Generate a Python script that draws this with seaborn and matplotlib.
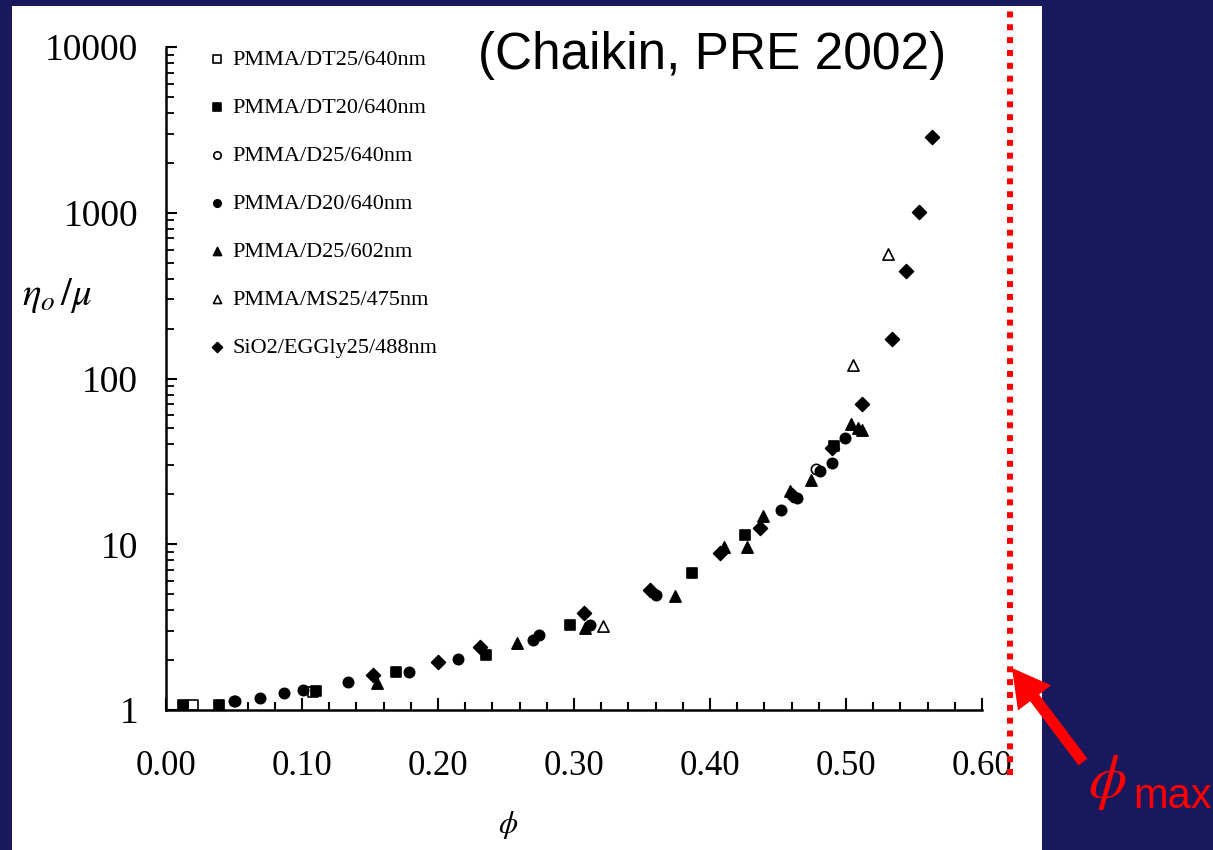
import numpy as np
import pandas as pd
import matplotlib
matplotlib.use('Agg')
import matplotlib.pyplot as plt
import seaborn as sns
from matplotlib.patches import Rectangle, FancyArrowPatch
from matplotlib.lines import Line2D
from matplotlib.ticker import FixedLocator, NullFormatter

# series (phi, eta_0/mu)
dt25_phi = [0.020, 0.108]
dt25_eta = [1.07, 1.28]

dt20_phi = [0.0125, 0.039, 0.110, 0.169, 0.235, 0.297, 0.387, 0.426, 0.491]
dt20_eta = [1.07, 1.07, 1.30, 1.69, 2.14, 3.25, 6.7, 11.3, 39.0]

d25_phi = [0.051, 0.478]
d25_eta = [1.14, 28.5]

d20_phi = [0.050, 0.069, 0.087, 0.101, 0.134, 0.179, 0.215, 0.270, 0.274,
           0.312, 0.360, 0.452, 0.464, 0.481, 0.490, 0.499]
d20_eta = [1.13, 1.18, 1.27, 1.32, 1.47, 1.69, 2.03, 2.64, 2.83,
           3.25, 4.93, 16.0, 18.9, 27.8, 30.8, 44.0]

d25_602_phi = [0.155, 0.258, 0.308, 0.374, 0.410, 0.427, 0.439, 0.459, 0.474,
               0.504, 0.509, 0.512]
d25_602_eta = [1.45, 2.53, 3.12, 4.86, 9.6, 9.6, 14.9, 21.1, 24.3,
               53.5, 50.0, 48.6]

ms25_phi = [0.321, 0.505, 0.531]
ms25_eta = [3.2, 120, 567]

sio2_phi = [0.152, 0.200, 0.231, 0.307, 0.356, 0.407, 0.437, 0.460, 0.490,
            0.512, 0.534, 0.544, 0.554, 0.563]
sio2_eta = [1.62, 1.95, 2.40, 3.84, 5.28, 8.8, 12.5, 19.8, 38.0,
            70.6, 174, 448, 1010, 2850]

labels = ['PMMA/DT25/640nm', 'PMMA/DT20/640nm', 'PMMA/D25/640nm', 'PMMA/D20/640nm',
          'PMMA/D25/602nm', 'PMMA/MS25/475nm', 'SiO2/EGGly25/488nm']
xtick_vals = [0.0, 0.1, 0.2, 0.3, 0.4, 0.5, 0.6]
xtick_labels = ['0.00', '0.10', '0.20', '0.30', '0.40', '0.50', '0.60']
ytick_vals = [1, 10, 100, 1000, 10000]
ytick_labels = ['1', '10', '100', '1000', '10000']

series = [
    (dt25_phi, dt25_eta, 's', False),
    (dt20_phi, dt20_eta, 's', True),
    (d25_phi, d25_eta, 'o', False),
    (d20_phi, d20_eta, 'o', True),
    (d25_602_phi, d25_602_eta, '^', True),
    (ms25_phi, ms25_eta, '^', False),
    (sio2_phi, sio2_eta, 'D', True),
]

sns.set_style('ticks')
plt.rcParams['font.family'] = ['Liberation Serif', 'DejaVu Serif']
plt.rcParams['mathtext.fontset'] = 'stix'
plt.rcParams.update({'text.color': 'black', 'axes.labelcolor': 'black',
                     'xtick.color': 'black', 'ytick.color': 'black',
                     'axes.edgecolor': 'black'})

W, H = 1213, 850
fig = plt.figure(figsize=(W / 100, H / 100), dpi=100)
fig.patch.set_facecolor('#18185e')
fig.add_artist(Rectangle((12 / W, 0), (1042 - 12) / W, (H - 6) / H,
                         transform=fig.transFigure, facecolor='white',
                         edgecolor='none', zorder=0))

ax = fig.add_axes([166 / W, 140 / H, 850 / W, 663 / H])
ax.set_facecolor('none')

sizes = {'s': 55, 'o': 55, '^': 65, 'D': 50}
for (px, py, mk, filled), lab in zip(series, labels):
    df = pd.DataFrame({'phi': px, 'eta': py})
    sns.scatterplot(data=df, x='phi', y='eta', marker=mk, s=sizes[mk],
                    color='black' if filled else 'white', edgecolor='black',
                    linewidth=1.2, label=lab, ax=ax, zorder=3 if filled else 2)

ax.set_yscale('log')
ax.set_xlim(0, 0.625)
ax.set_ylim(1, 10000)
ax.set_xlabel('')
ax.set_ylabel('')

for s in ['top', 'right']:
    ax.spines[s].set_visible(False)
ax.spines['bottom'].set_bounds(0, 0.6)
ax.spines['left'].set_linewidth(1.8)
ax.spines['bottom'].set_linewidth(1.8)

ax.set_xticks(xtick_vals)
ax.set_xticklabels(xtick_labels)
ax.xaxis.set_minor_locator(FixedLocator(np.round(np.arange(0, 0.601, 0.02), 2)))
ax.set_yticks(ytick_vals)
ax.set_yticklabels(ytick_labels)
ax.yaxis.set_minor_formatter(NullFormatter())
ax.tick_params(axis='x', which='major', direction='in', length=9, width=1.5,
               labelsize=25, pad=29)
ax.tick_params(axis='x', which='minor', direction='in', length=6, width=1.5)
ax.tick_params(axis='y', which='major', direction='in', length=8, width=1.5,
               labelsize=27, pad=20)
ax.tick_params(axis='y', which='minor', direction='in', length=6, width=1.3)

ax.legend(loc='upper left', bbox_to_anchor=(209 / W, 1 - 49 / H),
          bbox_transform=fig.transFigure, frameon=False, fontsize=16,
          markerscale=0.72, handlelength=0.75, handletextpad=0.3,
          labelspacing=1.24, borderpad=0, borderaxespad=0)

fig.text(22 / W, 1 - 296 / H, r'$\eta_o\,/\mu$', fontsize=28, va='center', ha='left')
fig.text(508 / W, 1 - 825 / H, r'$\phi$', fontsize=22, va='center', ha='center')

fig.text(712 / W, 1 - 55 / H, '(Chaikin, PRE 2002)', fontsize=37, color='black',
         family='Liberation Sans', va='center', ha='center')

# phi_max marker line and arrow
fig.add_artist(Line2D([1010 / W, 1010 / W], [1 - 775 / H, 1 - 5 / H],
                      transform=fig.transFigure, color='#ff0000', lw=4.3,
                      dashes=(1, 1.15), solid_capstyle='butt',
                      dash_capstyle='butt'))
fig.add_artist(FancyArrowPatch((1083 / W, 1 - 762 / H), (1012 / W, 1 - 668 / H),
                               transform=fig.transFigure,
                               arrowstyle='simple,head_length=27,head_width=30,tail_width=8',
                               mutation_scale=1, color='#ff0000', lw=0,
                               shrinkA=0, shrinkB=0))
fig.text(1088 / W, 1 - 797 / H, r'$\phi$', fontsize=44, color='#ff0000',
         va='baseline', ha='left')
fig.text(1133 / W, 1 - 808 / H, 'max', fontsize=30, color='#ff0000',
         family='Liberation Sans', va='baseline', ha='left')

fig.savefig('out.png', dpi=100, facecolor=fig.get_facecolor())
